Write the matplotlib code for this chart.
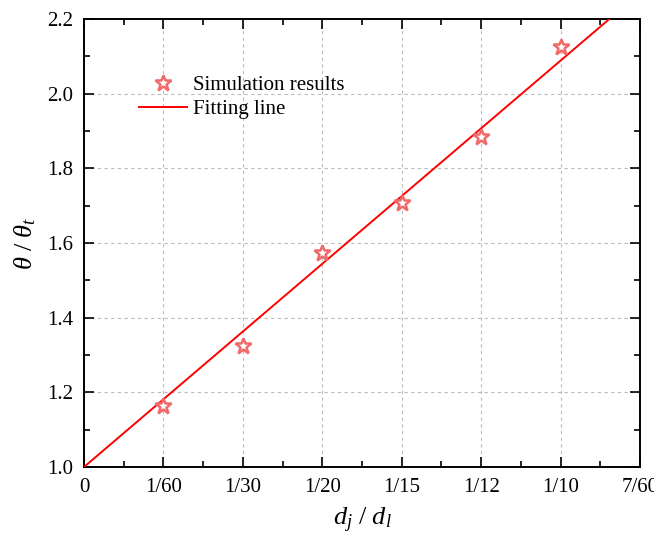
import numpy as np
import matplotlib
matplotlib.use("Agg")
import matplotlib.pyplot as plt
from matplotlib.ticker import MultipleLocator

plt.rcParams['font.family'] = ['Liberation Serif', 'DejaVu Serif']
plt.rcParams['mathtext.fontset'] = 'custom'
plt.rcParams['mathtext.it'] = 'Liberation Serif:italic'
plt.rcParams['mathtext.rm'] = 'Liberation Serif'

# simulation points (x = d_j/d_l)
sim_x = [1/60, 1/30, 1/20, 1/15, 1/12, 1/10]
sim_y = [1.164, 1.324, 1.572, 1.706, 1.885, 2.124]

# fitting line end points
fit_x = [0.0, 7/60]
fit_y = [1.0, 2.27]

xtick_vals = [0, 1/60, 1/30, 1/20, 1/15, 1/12, 1/10, 7/60]
xtick_labels = ['0', '1/60', '1/30', '1/20', '1/15', '1/12', '1/10', '7/60']

fig = plt.figure(figsize=(6.54, 5.35), dpi=100)
ax = fig.add_axes([84/654, 1 - 467/535, 556/654, 448/535])

ax.plot(fit_x, fit_y, '-', color='#FF0000', lw=1.4, label='Fitting line', zorder=3)
ax.plot(sim_x, sim_y, linestyle='none', marker='*', markersize=12,
        markerfacecolor='white', markeredgecolor='#F06A6A', markeredgewidth=1.8,
        label='Simulation results', zorder=4)

ax.set_xlim(0, 7/60)
ax.set_ylim(1.0, 2.2)
ax.set_xticks(xtick_vals)
ax.set_xticklabels(xtick_labels)
ax.xaxis.set_minor_locator(MultipleLocator(1/120))
ax.yaxis.set_major_locator(MultipleLocator(0.2))
ax.yaxis.set_minor_locator(MultipleLocator(0.1))
ax.yaxis.set_major_formatter(matplotlib.ticker.FormatStrFormatter('%.1f'))

ax.tick_params(which='both', direction='in', top=True, right=True, labelsize=15, width=1.2)
ax.tick_params(which='major', length=7, pad=8)
ax.tick_params(which='minor', length=4)
for s in ax.spines.values():
    s.set_linewidth(1.4)

ax.grid(True, which='major', linestyle=(0, (3, 3)), color='#BBBBBB', lw=0.8)

ax.set_xlabel(r'$d_j\ /\ d_l$', fontsize=19, labelpad=6)
ax.set_ylabel(r'$\theta\ /\ \theta_t$', fontsize=19, labelpad=6)

handles, labels = ax.get_legend_handles_labels()
ax.legend(handles[::-1], labels[::-1], loc='upper left', bbox_to_anchor=(0.065, 0.915),
          frameon=False, fontsize=15, handlelength=2.3, handletextpad=0.3,
          labelspacing=0.2)

fig.savefig('out.png', dpi=100)
